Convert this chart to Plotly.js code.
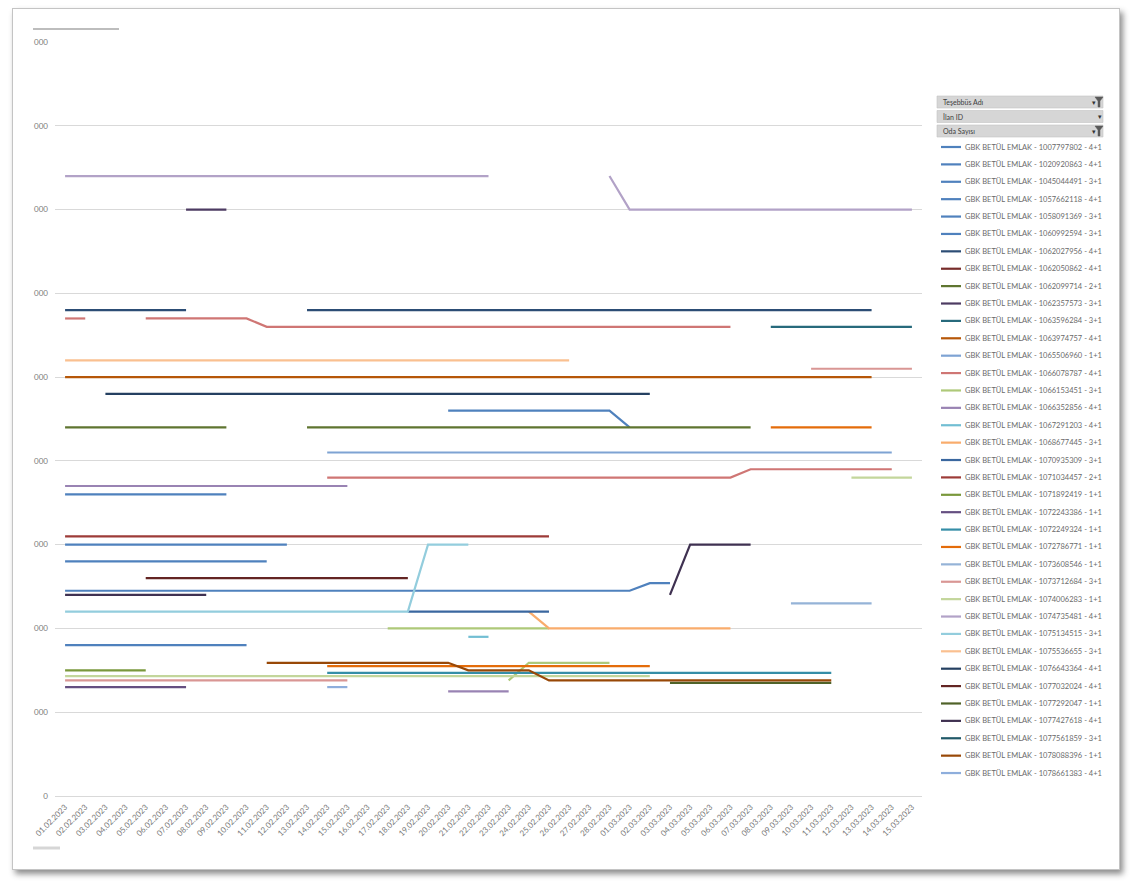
<!DOCTYPE html>
<html>
<head>
<meta charset="utf-8">
<script src="https://cdn.plot.ly/plotly-3.0.1.min.js"></script>
<style>
  html, body { margin: 0; padding: 0; background: #ffffff; }
  #wrap { position: relative; width: 1135px; height: 886px; overflow: hidden; }
  #frame {
    position: absolute; left: 12px; top: 8px; width: 1106px; height: 860px;
    border: 1px solid #c4c4c4; background: #fff;
    box-shadow: 3px 4px 6px rgba(0,0,0,0.45);
  }
  #chart { position: absolute; left: 0; top: 0; width: 1135px; height: 886px; }
</style>
</head>
<body>
<div id="wrap"><div id="frame"></div><div id="chart"></div></div>
<script>
// Price history per listing (pivot chart look-alike)
const n = null;

const DATES = [
  "01.02.2023", "02.02.2023", "03.02.2023", "04.02.2023", "05.02.2023", "06.02.2023", "07.02.2023",
  "08.02.2023", "09.02.2023", "10.02.2023", "11.02.2023", "12.02.2023", "13.02.2023", "14.02.2023",
  "15.02.2023", "16.02.2023", "17.02.2023", "18.02.2023", "19.02.2023", "20.02.2023", "21.02.2023",
  "22.02.2023", "23.02.2023", "24.02.2023", "25.02.2023", "26.02.2023", "27.02.2023", "28.02.2023",
  "01.03.2023", "02.03.2023", "03.03.2023", "04.03.2023", "05.03.2023", "06.03.2023", "07.03.2023",
  "08.03.2023", "09.03.2023", "10.03.2023", "11.03.2023", "12.03.2023", "13.03.2023", "14.03.2023",
  "15.03.2023",
];

const SERIES_NAMES = [
  "GBK BETÜL EMLAK - 1007797802 - 4+1", "GBK BETÜL EMLAK - 1020920863 - 4+1",
  "GBK BETÜL EMLAK - 1045044491 - 3+1", "GBK BETÜL EMLAK - 1057662118 - 4+1",
  "GBK BETÜL EMLAK - 1058091369 - 3+1", "GBK BETÜL EMLAK - 1060992594 - 3+1",
  "GBK BETÜL EMLAK - 1062027956 - 4+1", "GBK BETÜL EMLAK - 1062050862 - 4+1",
  "GBK BETÜL EMLAK - 1062099714 - 2+1", "GBK BETÜL EMLAK - 1062357573 - 3+1",
  "GBK BETÜL EMLAK - 1063596284 - 3+1", "GBK BETÜL EMLAK - 1063974757 - 4+1",
  "GBK BETÜL EMLAK - 1065506960 - 1+1", "GBK BETÜL EMLAK - 1066078787 - 4+1",
  "GBK BETÜL EMLAK - 1066153451 - 3+1", "GBK BETÜL EMLAK - 1066352856 - 4+1",
  "GBK BETÜL EMLAK - 1067291203 - 4+1", "GBK BETÜL EMLAK - 1068677445 - 3+1",
  "GBK BETÜL EMLAK - 1070935309 - 3+1", "GBK BETÜL EMLAK - 1071034457 - 2+1",
  "GBK BETÜL EMLAK - 1071892419 - 1+1", "GBK BETÜL EMLAK - 1072243386 - 1+1",
  "GBK BETÜL EMLAK - 1072249324 - 1+1", "GBK BETÜL EMLAK - 1072786771 - 1+1",
  "GBK BETÜL EMLAK - 1073608546 - 1+1", "GBK BETÜL EMLAK - 1073712684 - 3+1",
  "GBK BETÜL EMLAK - 1074006283 - 1+1", "GBK BETÜL EMLAK - 1074735481 - 4+1",
  "GBK BETÜL EMLAK - 1075134515 - 3+1", "GBK BETÜL EMLAK - 1075536655 - 3+1",
  "GBK BETÜL EMLAK - 1076643364 - 4+1", "GBK BETÜL EMLAK - 1077032024 - 4+1",
  "GBK BETÜL EMLAK - 1077292047 - 1+1", "GBK BETÜL EMLAK - 1077427618 - 4+1",
  "GBK BETÜL EMLAK - 1077561859 - 3+1", "GBK BETÜL EMLAK - 1078088396 - 1+1",
  "GBK BETÜL EMLAK - 1078661383 - 4+1",
];

const SERIES_COLORS = [
  "#4f81bd", "#4f81bd", "#4f81bd", "#4f81bd", "#4f81bd", "#4f81bd",
  "#2c4d75", "#772c2a", "#5f7530", "#4d3b62", "#276a7c", "#b65708",
  "#7ea3d3", "#cf7674", "#aec979", "#9983b3", "#72bed3", "#f9ac6c",
  "#3a679f", "#9d3b38", "#7a983c", "#654f81", "#358ea7", "#e46c0a",
  "#95b3d7", "#d99694", "#c3d69b", "#b2a2c7", "#93cddd", "#fac090",
  "#254061", "#632523", "#4f6228", "#3f3151", "#215968", "#984807",
  "#8eaedc",
];

// which series each drawn line belongs to (0-based)
const LINE_SERIES = [0, 1, 2, 3, 4, 5, 6, 7, 8, 9, 10, 11, 12, 13, 13, 14, 14, 15, 16, 17,
  18, 19, 20, 21, 22, 23, 24, 25, 26, 27, 28, 29, 30, 31, 32, 33, 35, 36];

// values in thousands, one per date
const LINE_VALUES = [
  [1800,1800,1800,1800,1800,1800,1800,1800,1800,n, n,n,n,n,n,n,n,n,n,n, n,n,n,n,n,n,n,n,n,n, n,n,n,n,n,n,n,n,n,n, n,n,n],
  [n,n,n,n,n,n,n,n,n,n, n,n,n,n,n,n,n,n,n,2300, 2300,2300,2300,2300,2300,2300,2300,2300,2200,n, n,n,n,n,n,n,n,n,n,n, n,n,n],
  [1500,1500,1500,1500,1500,1500,1500,1500,1500,1500, 1500,1500,n,n,n,n,n,n,n,n, n,n,n,n,n,n,n,n,n,n, n,n,n,n,n,n,n,n,n,n, n,n,n],
  [1400,1400,1400,1400,1400,1400,1400,1400,1400,1400, 1400,n,n,n,n,n,n,n,n,n, n,n,n,n,n,n,n,n,n,n, n,n,n,n,n,n,n,n,n,n, n,n,n],
  [1225,1225,1225,1225,1225,1225,1225,1225,1225,1225, 1225,1225,1225,1225,1225,1225,1225,1225,1225,1225, 1225,1225,1225,1225,1225,1225,1225,1225,1225,1270, 1270,n,n,n,n,n,n,n,n,n, n,n,n],
  [900,900,900,900,900,900,900,900,900,900, n,n,n,n,n,n,n,n,n,n, n,n,n,n,n,n,n,n,n,n, n,n,n,n,n,n,n,n,n,n, n,n,n],
  [2900,2900,2900,2900,2900,2900,2900,n,n,n, n,n,2900,2900,2900,2900,2900,2900,2900,2900, 2900,2900,2900,2900,2900,2900,2900,2900,2900,2900, 2900,2900,2900,2900,2900,2900,2900,2900,2900,2900, 2900,n,n],
  [n,n,n,n,1850,1850,1850,n,n,n, n,n,n,n,n,n,n,n,n,n, n,n,n,n,n,n,n,n,n,n, n,n,n,n,n,n,n,n,n,n, n,n,n],
  [2200,2200,2200,2200,2200,2200,2200,2200,2200,n, n,n,2200,2200,2200,2200,2200,2200,2200,2200, 2200,2200,2200,2200,2200,2200,2200,2200,2200,2200, 2200,2200,2200,2200,2200,n,n,n,n,n, n,n,n],
  [n,n,n,n,n,n,3500,3500,3500,n, n,n,n,n,n,n,n,n,n,n, n,n,n,n,n,n,n,n,n,n, n,n,n,n,n,n,n,n,n,n, n,n,n],
  [n,n,n,n,n,n,n,n,n,n, n,n,n,n,n,n,n,n,n,n, n,n,n,n,n,n,n,n,n,n, n,n,n,n,n,2800,2800,2800,2800,2800, 2800,2800,2800],
  [2500,2500,2500,2500,2500,2500,2500,2500,2500,2500, 2500,2500,2500,2500,2500,2500,2500,2500,2500,2500, 2500,2500,2500,2500,2500,2500,2500,2500,2500,2500, 2500,2500,2500,2500,2500,2500,2500,2500,2500,2500, 2500,n,n],
  [n,n,n,n,n,n,n,n,n,n, n,n,n,2050,2050,2050,2050,2050,2050,2050, 2050,2050,2050,2050,2050,2050,2050,2050,2050,2050, 2050,2050,2050,2050,2050,2050,2050,2050,2050,2050, 2050,2050,n],
  [2850,2850,n,n,2850,2850,2850,2850,2850,2850, 2800,2800,2800,2800,2800,2800,2800,2800,2800,2800, 2800,2800,2800,2800,2800,2800,2800,2800,2800,2800, 2800,2800,2800,2800,n,n,n,n,n,n, n,n,n],
  [n,n,n,n,n,n,n,n,n,n, n,n,n,1900,1900,1900,1900,1900,1900,1900, 1900,1900,1900,1900,1900,1900,1900,1900,1900,1900, 1900,1900,1900,1900,1950,1950,1950,1950,1950,1950, 1950,1950,n],
  [n,n,n,n,n,n,n,n,n,n, n,n,n,n,n,n,1000,1000,1000,1000, 1000,1000,1000,1000,1000,n,n,n,n,n, n,n,n,n,n,n,n,n,n,n, n,n,n],
  [n,n,n,n,n,n,n,n,n,n, n,n,n,n,n,n,n,n,n,n, n,n,690,795,795,795,795,795,n,n, n,n,n,n,n,n,n,n,n,n, n,n,n],
  [1850,1850,1850,1850,1850,1850,1850,1850,1850,1850, 1850,1850,1850,1850,1850,n,n,n,n,625, 625,625,625,n,n,n,n,n,n,n, n,n,n,n,n,n,n,n,n,n, n,n,n],
  [n,n,n,n,n,n,n,n,n,n, n,n,n,n,n,n,n,n,n,n, 950,950,n,n,n,n,n,n,n,n, n,n,n,n,n,n,n,n,n,n, n,n,n],
  [n,n,n,n,n,n,n,n,n,n, n,n,n,n,n,n,n,n,n,n, n,n,n,1100,1000,1000,1000,1000,1000,1000, 1000,1000,1000,1000,n,n,n,n,n,n, n,n,n],
  [n,n,n,n,n,n,n,n,n,n, n,n,n,n,n,n,n,1100,1100,1100, 1100,1100,1100,1100,1100,n,n,n,n,n, n,n,n,n,n,n,n,n,n,n, n,n,n],
  [1550,1550,1550,1550,1550,1550,1550,1550,1550,1550, 1550,1550,1550,1550,1550,1550,1550,1550,1550,1550, 1550,1550,1550,1550,1550,n,n,n,n,n, n,n,n,n,n,n,n,n,n,n, n,n,n],
  [750,750,750,750,750,n,n,n,n,n, n,n,n,n,n,n,n,n,n,n, n,n,n,n,n,n,n,n,n,n, n,n,n,n,n,n,n,n,n,n, n,n,n],
  [650,650,650,650,650,650,650,n,n,n, n,n,n,n,n,n,n,n,n,n, n,n,n,n,n,n,n,n,n,n, n,n,n,n,n,n,n,n,n,n, n,n,n],
  [n,n,n,n,n,n,n,n,n,n, n,n,n,735,735,735,735,735,735,735, 735,735,735,735,735,735,735,735,735,735, 735,735,735,735,735,735,735,735,735,n, n,n,n],
  [n,n,n,n,n,n,n,n,n,n, n,n,n,775,775,775,775,775,775,775, 775,775,775,775,775,775,775,775,775,775, n,n,n,n,n,2200,2200,2200,2200,2200, 2200,n,n],
  [n,n,n,n,n,n,n,n,n,n, n,n,n,n,n,n,n,n,n,n, n,n,n,n,n,n,n,n,n,n, n,n,n,n,n,n,1150,1150,1150,1150, 1150,n,n],
  [690,690,690,690,690,690,690,690,690,690, 690,690,690,690,690,n,n,n,n,n, n,n,n,n,n,n,n,n,n,n, n,n,n,n,n,n,n,2550,2550,2550, 2550,2550,2550],
  [715,715,715,715,715,715,715,715,715,715, 715,715,715,715,715,715,715,715,715,715, 715,715,715,715,715,715,715,715,715,715, n,n,n,n,n,n,n,n,n,1900, 1900,1900,1900],
  [3700,3700,3700,3700,3700,3700,3700,3700,3700,3700, 3700,3700,3700,3700,3700,3700,3700,3700,3700,3700, 3700,3700,n,n,n,n,n,3700,3500,3500, 3500,3500,3500,3500,3500,3500,3500,3500,3500,3500, 3500,3500,3500],
  [1100,1100,1100,1100,1100,1100,1100,1100,1100,1100, 1100,1100,1100,1100,1100,1100,1100,1100,1500,1500, 1500,n,n,n,n,n,n,n,n,n, n,n,n,n,n,n,n,n,n,n, n,n,n],
  [2600,2600,2600,2600,2600,2600,2600,2600,2600,2600, 2600,2600,2600,2600,2600,2600,2600,2600,2600,2600, 2600,2600,2600,2600,2600,2600,n,n,n,n, n,n,n,n,n,n,n,n,n,n, n,n,n],
  [n,n,2400,2400,2400,2400,2400,2400,2400,2400, 2400,2400,2400,2400,2400,2400,2400,2400,2400,2400, 2400,2400,2400,2400,2400,2400,2400,2400,2400,2400, n,n,n,n,n,n,n,n,n,n, n,n,n],
  [n,n,n,n,1300,1300,1300,1300,1300,1300, 1300,1300,1300,1300,1300,1300,1300,1300,n,n, n,n,n,n,n,n,n,n,n,n, n,n,n,n,n,n,n,n,n,n, n,n,n],
  [n,n,n,n,n,n,n,n,n,n, n,n,n,n,n,n,n,n,n,n, n,n,n,n,n,n,n,n,n,n, 675,675,675,675,675,675,675,675,675,n, n,n,n],
  [1200,1200,1200,1200,1200,1200,1200,1200,n,n, n,n,n,n,n,n,n,n,n,n, n,n,n,n,n,n,n,n,n,n, 1200,1500,1500,1500,1500,n,n,n,n,n, n,n,n],
  [n,n,n,n,n,n,n,n,n,n, 795,795,795,795,795,795,795,795,795,795, 750,750,750,750,690,690,690,690,690,690, 690,690,690,690,690,690,690,690,690,n, n,n,n],
  [n,n,n,n,n,n,n,n,n,n, n,n,n,650,650,n,n,n,n,n, n,n,n,n,n,n,n,n,n,n, n,n,n,n,n,n,n,n,n,n, n,n,n],
];

const Y_TICKS = [0, 500, 1000, 1500, 2000, 2500, 3000, 3500, 4000, 4500];
const Y_TICK_TEXT = ["0", "000", "000", "000", "000", "000", "000", "000", "000", "000"];

const FIELD_BUTTONS = ["Teşebbüs Adı", "İlan ID", "Oda Sayısı"];
const FIELD_FILTERED = [true, false, true];

// plot area in page pixels, used to place the hand-made legend
const PLOT = { l: 55, r: 922, t: 42, b: 796 };
const px2x = (px) => (px - PLOT.l) / (PLOT.r - PLOT.l);
const px2y = (py) => (PLOT.b - py) / (PLOT.b - PLOT.t);

const FONT = "Lato, 'Open Sans', sans-serif";
const TEXT_COLOR = "#7a7a7a";
const LEGEND_TEXT = "#6a6a6a";
const GRID_COLOR = "#d9d9d9";

const traces = LINE_VALUES.map((vals, i) => ({
  type: "scatter",
  mode: "lines",
  x: DATES,
  y: vals,
  name: SERIES_NAMES[LINE_SERIES[i]],
  line: { color: SERIES_COLORS[LINE_SERIES[i]], width: 2.2 },
  connectgaps: false,
  showlegend: false,
  hovertemplate: "%{x}: %{y}<extra>" + SERIES_NAMES[LINE_SERIES[i]] + "</extra>",
}));

const shapes = [];
const annotations = [];

// Excel-style legend: 37 rows, tighter than Plotly's own legend allows
const LEG_TOP = 147;
const LEG_STEP = 17.39;
SERIES_NAMES.forEach((name, k) => {
  const y = px2y(LEG_TOP + k * LEG_STEP);
  shapes.push({
    type: "line", xref: "paper", yref: "paper",
    x0: px2x(941), x1: px2x(961), y0: y, y1: y,
    line: { color: SERIES_COLORS[k], width: 2.2 },
  });
  annotations.push({
    xref: "paper", yref: "paper", x: px2x(963), y: y,
    xanchor: "left", yanchor: "middle", showarrow: false,
    text: name, font: { family: FONT, size: 7.5, color: LEGEND_TEXT },
  });
});

// pivot field buttons above the legend
const BTN_TOPS = [96, 110.5, 125];
FIELD_BUTTONS.forEach((label, k) => {
  const t = BTN_TOPS[k];
  shapes.push({
    type: "rect", xref: "paper", yref: "paper",
    x0: px2x(937), x1: px2x(1103), y0: px2y(t), y1: px2y(t + 12),
    fillcolor: "#d6d6d6", line: { color: "#c2c2c2", width: 0.6 },
  });
  annotations.push({
    xref: "paper", yref: "paper", x: px2x(941), y: px2y(t + 6),
    xanchor: "left", yanchor: "middle", showarrow: false,
    text: label, font: { family: FONT, size: 7, color: "#404040" },
  });
  annotations.push({
    xref: "paper", yref: "paper", x: px2x(FIELD_FILTERED[k] ? 1094 : 1100), y: px2y(t + 6.5),
    xanchor: "center", yanchor: "middle", showarrow: false,
    text: "▾", font: { family: "DejaVu Sans", size: 7, color: "#333" },
  });
  if (FIELD_FILTERED[k]) {
    const path = "M " + px2x(1095) + "," + px2y(t + 1) + " L " + px2x(1103) + "," + px2y(t + 1) +
      " L " + px2x(1100) + "," + px2y(t + 5) + " L " + px2x(1100) + "," + px2y(t + 11) +
      " L " + px2x(1098) + "," + px2y(t + 11) + " L " + px2x(1098) + "," + px2y(t + 5) + " Z";
    shapes.push({ type: "path", xref: "paper", yref: "paper", path: path,
      fillcolor: "#595959", line: { color: "#595959", width: 0.5 } });
  }
});

// faded field buttons at the top-left and bottom-left corners
shapes.push({ type: "line", xref: "paper", yref: "paper",
  x0: px2x(33), x1: px2x(119), y0: px2y(29), y1: px2y(29),
  line: { color: "#bdbdbd", width: 2 } });
shapes.push({ type: "line", xref: "paper", yref: "paper",
  x0: px2x(33), x1: px2x(60), y0: px2y(848), y1: px2y(848),
  line: { color: "#d6d6d6", width: 3 } });

Plotly.newPlot("chart", traces, {
  width: 1135,
  height: 886,
  paper_bgcolor: "rgba(0,0,0,0)",
  plot_bgcolor: "rgba(0,0,0,0)",
  font: { family: FONT, size: 8, color: TEXT_COLOR },
  margin: { l: PLOT.l, r: 1135 - PLOT.r, t: PLOT.t, b: 886 - PLOT.b, pad: 0 },
  showlegend: false,
  xaxis: {
    type: "category",
    range: [-0.5, DATES.length - 0.5],
    showgrid: false,
    zeroline: false,
    showline: false,
    ticks: "",
    tickangle: -45,
    ticklabelstandoff: 4,
    tickfont: { family: FONT, size: 8, color: TEXT_COLOR },
    fixedrange: true,
  },
  yaxis: {
    range: [0, 4500],
    tickvals: Y_TICKS,
    ticktext: Y_TICK_TEXT,
    showgrid: true,
    gridcolor: GRID_COLOR,
    gridwidth: 1,
    zeroline: true,
    zerolinecolor: GRID_COLOR,
    zerolinewidth: 1,
    showline: false,
    ticks: "",
    ticklabelstandoff: 6,
    tickfont: { family: FONT, size: 8, color: TEXT_COLOR },
    fixedrange: true,
  },
  shapes: shapes,
  annotations: annotations,
}, { displayModeBar: false, staticPlot: true });
</script>
</body>
</html>
